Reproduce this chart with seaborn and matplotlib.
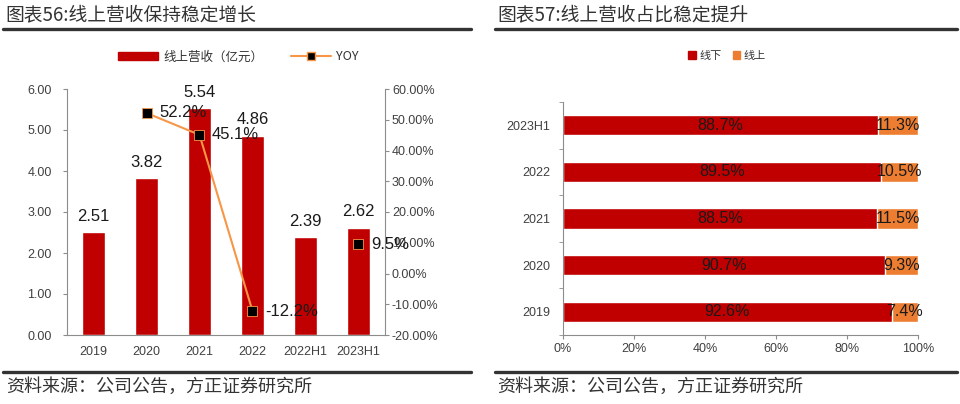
import matplotlib
matplotlib.use("Agg")
import matplotlib.pyplot as plt
from matplotlib.lines import Line2D
from matplotlib.patches import Patch
from matplotlib.ticker import FixedLocator, FuncFormatter
import seaborn as sns
import numpy as np
import pandas as pd

# left chart: online revenue (100m yuan) and yoy growth (%)
periods = ["2019", "2020", "2021", "2022", "2022H1", "2023H1"]
online_rev = [2.51, 3.82, 5.54, 4.86, 2.39, 2.62]
yoy = [np.nan, 52.2, 45.1, -12.2, np.nan, 9.5]

# right chart: offline / online share of revenue (%)
share_periods = ["2023H1", "2022", "2021", "2020", "2019"]
offline_share = [88.7, 89.5, 88.5, 90.7, 92.6]
online_share = [11.3, 10.5, 11.5, 9.3, 7.4]

RED = "#C00000"
ORANGE = "#ED7D31"
LINE_OR = "#F79646"
SPINE = "#8C8C8C"
TICK_TXT = "#404040"
DARK = "#333333"
CJK = ["Noto Sans CJK SC", "DejaVu Sans"]

sns.set_style("white")
plt.rcParams["font.family"] = ["Liberation Sans", "Noto Sans CJK SC"]

fig = plt.figure(figsize=(9.6, 4.04), dpi=100)
W, H = 960, 404


def fx(px):
    return px / W


def fy(py):
    return 1 - py / H


# ---- headers / footers
fig.text(fx(5), fy(15), "图表56:线上营收保持稳定增长", family=CJK, fontsize=13.5,
         color=DARK, va="center", ha="left")
fig.text(fx(497), fy(15), "图表57:线上营收占比稳定提升", family=CJK, fontsize=13.5,
         color=DARK, va="center", ha="left")
for x0, x1 in [(3, 471), (495, 957)]:
    fig.add_artist(Line2D([fx(x0), fx(x1)], [fy(29), fy(29)], lw=2.4, color=DARK))
    fig.add_artist(Line2D([fx(x0), fx(x1)], [fy(372), fy(372)], lw=2.4, color=DARK))
fig.text(fx(6), fy(387), "资料来源：公司公告，方正证券研究所", family=CJK, fontsize=13,
         color=DARK, va="center", ha="left")
fig.text(fx(497), fy(387), "资料来源：公司公告，方正证券研究所", family=CJK, fontsize=13,
         color=DARK, va="center", ha="left")

# ---- left chart
ax = fig.add_axes([fx(67), fy(335), fx(385 - 67), (335 - 89) / H])
rev = pd.DataFrame({"period": periods, "rev": online_rev})
sns.barplot(data=rev, x="period", y="rev", color=RED, width=0.44,
            saturation=1, ax=ax)
ax.bar_label(ax.containers[0], fmt="%.2f", padding=6, fontsize=12, color="#1a1a1a")
ax.set_ylim(0, 6)
ax.set_xlim(-0.5, len(periods) - 0.5)
ax.set_yticks(np.arange(0, 6.01, 1))
ax.yaxis.set_major_formatter(FuncFormatter(lambda v, p: f"{v:.2f}"))
ax.set_xlabel("")
ax.set_ylabel("")
ax.xaxis.set_minor_locator(FixedLocator(np.arange(-0.5, len(periods), 1)))
ax.tick_params(axis="x", which="major", length=0, pad=8, labelsize=9, labelcolor=TICK_TXT)
ax.tick_params(axis="x", which="minor", length=3, color=SPINE, direction="out")
ax.tick_params(axis="y", length=3, color=SPINE, pad=8, labelsize=9,
               labelcolor=TICK_TXT, left=True)
for s in ["top", "right"]:
    ax.spines[s].set_visible(False)
for s in ["left", "bottom"]:
    ax.spines[s].set_color(SPINE)

ax2 = ax.twinx()
yoy_df = pd.DataFrame({"pos": range(len(periods)), "yoy": yoy})
sns.lineplot(data=yoy_df.iloc[1:4], x="pos", y="yoy", color=LINE_OR, lw=1.5, ax=ax2)
pts = yoy_df.dropna()
sns.scatterplot(data=pts, x="pos", y="yoy", marker="s", s=45, color="black",
                edgecolor=LINE_OR, linewidth=0.6, zorder=4, ax=ax2)
for _, r in pts.iterrows():
    ax2.annotate(f"{r['yoy']:.1f}%", (r["pos"], r["yoy"]), xytext=(9, 0),
                 textcoords="offset points", ha="left", va="center",
                 fontsize=12, color="#1a1a1a")
ax2.set_ylim(-20, 60)
ax2.set_yticks(np.arange(-20, 60.1, 10))
ax2.yaxis.set_major_formatter(FuncFormatter(lambda v, p: f"{v:.2f}%"))
ax2.set_ylabel("")
ax2.tick_params(axis="y", length=3, color=SPINE, pad=2, labelsize=9,
                labelcolor=TICK_TXT, right=True)
for s in ["top", "left", "bottom"]:
    ax2.spines[s].set_visible(False)
ax2.spines["right"].set_color(SPINE)
ax.set_xlim(-0.5, len(periods) - 0.5)

leg_handles = [Patch(facecolor=RED, edgecolor=RED),
               Line2D([], [], color=LINE_OR, lw=1.5, marker="s", markersize=6,
                      markerfacecolor="black", markeredgecolor=LINE_OR)]
fig.legend(leg_handles, ["线上营收（亿元）", "YOY"], loc="center",
           bbox_to_anchor=(fx(238), fy(57)), ncol=2, frameon=False,
           prop={"family": CJK, "size": 9}, handlelength=3.2, handleheight=0.6,
           columnspacing=2.2, handletextpad=0.4, labelcolor=DARK)

# ---- right chart
ax3 = fig.add_axes([fx(563), fy(335), fx(918 - 563), (335 - 102) / H])
share = pd.DataFrame({"period": share_periods, "offline": offline_share,
                      "online": online_share})
share["total"] = share["offline"] + share["online"]
sns.barplot(data=share, y="period", x="total", color=ORANGE, width=0.43,
            saturation=1, orient="h", ax=ax3)
sns.barplot(data=share, y="period", x="offline", color=RED, width=0.43,
            saturation=1, orient="h", ax=ax3)
for i, r in share.iterrows():
    ax3.text(r["offline"] / 2, i, f"{r['offline']:.1f}%", ha="center", va="center",
             fontsize=11.5, color="#1a1a1a")
    ax3.text(r["offline"] + r["online"] / 2, i, f"{r['online']:.1f}%", ha="center",
             va="center", fontsize=11.5, color="#1a1a1a")
ax3.set_xlim(0, 100)
ax3.set_ylim(len(share_periods) - 0.5, -0.5)
ax3.set_xticks(np.arange(0, 101, 20))
ax3.xaxis.set_major_formatter(FuncFormatter(lambda v, p: f"{v:.0f}%"))
ax3.set_xlabel("")
ax3.set_ylabel("")
ax3.yaxis.set_minor_locator(FixedLocator(np.arange(-0.5, len(share_periods), 1)))
ax3.tick_params(axis="y", which="major", length=0, pad=9, labelsize=9, labelcolor=TICK_TXT)
ax3.tick_params(axis="y", which="minor", length=3, color=SPINE, direction="out", left=True)
ax3.tick_params(axis="x", length=3, color=SPINE, pad=3, labelsize=9,
                labelcolor=TICK_TXT, bottom=True)
for s in ["top", "right"]:
    ax3.spines[s].set_visible(False)
for s in ["left", "bottom"]:
    ax3.spines[s].set_color(SPINE)

leg2 = [Patch(facecolor=RED, edgecolor=RED), Patch(facecolor=ORANGE, edgecolor=ORANGE)]
fig.legend(leg2, ["线下", "线上"], loc="center", bbox_to_anchor=(fx(727), fy(56)),
           ncol=2, frameon=False, prop={"family": CJK, "size": 8},
           handlelength=0.7, handleheight=0.7, handletextpad=0.3,
           columnspacing=1.0, labelcolor=DARK)

fig.savefig("out.png", dpi=100)
